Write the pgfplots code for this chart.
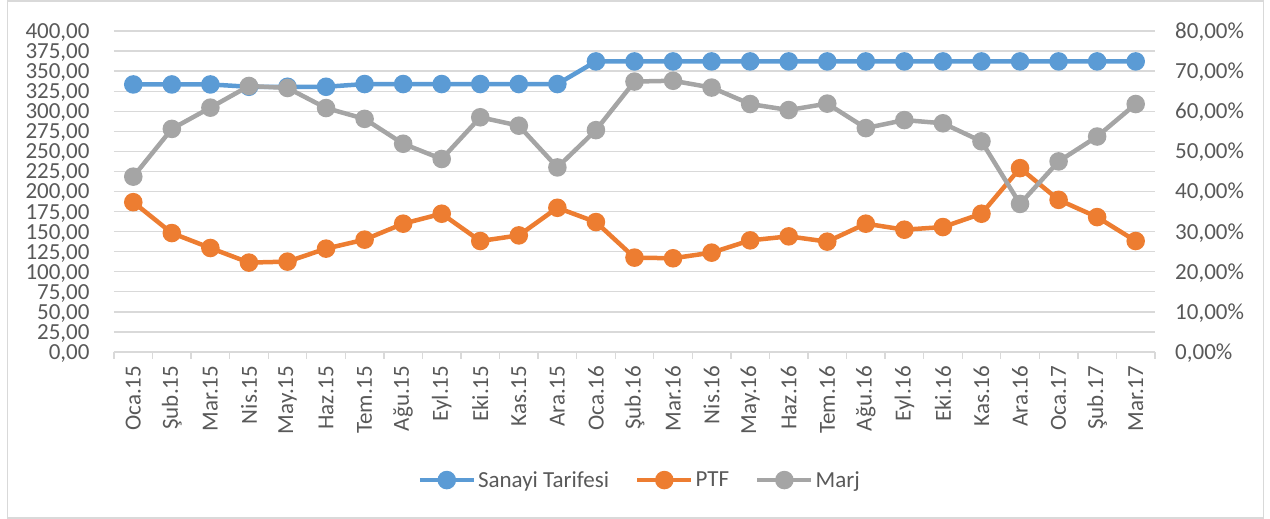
\documentclass[border=0pt]{standalone}
\usepackage{fontspec}
\setmainfont{Carlito}
\usepackage{pgfplots}
\pgfplotsset{compat=1.18}
\definecolor{cblue}{HTML}{5B9BD5}
\definecolor{corange}{HTML}{ED7D31}
\definecolor{cgray}{HTML}{A5A5A5}
\definecolor{ctext}{HTML}{595959}
\definecolor{cgrid}{HTML}{D9D9D9}
\begin{document}
\begin{tikzpicture}[x=1pt,y=1pt]
\useasboundingbox (0,0) rectangle (1270,519);
\draw[cgrid, line width=1.2pt] (7.5,1) rectangle (1263.5,518);
\pgfplotsset{
  common/.style={
    scale only axis, width=1041pt, height=321pt,
    at={(114pt,167pt)}, anchor=south west,
    xmin=-0.5, xmax=26.5,
    font=\fontsize{23}{26}\selectfont,
    tick label style={text=ctext},
    /pgf/number format/.cd, fixed, fixed zerofill, precision=2, use comma, 1000 sep={}, assume math mode=true,
    /pgfplots/.cd,
  },
  ser/.style={line width=4.5pt, mark=*, mark size=7pt, mark options={solid}},
}
\begin{axis}[common,
  ymin=0, ymax=400, ytick={0,25,...,400},
  ymajorgrids, grid style={cgrid, line width=1.3pt},
  axis line style={draw=none},
  axis x line*=bottom, axis y line*=left,
  y axis line style={draw=none},
  x axis line style={draw=cgrid, line width=1.3pt},
  ytick style={draw=none},
  yticklabel style={inner sep=0pt, text height=15pt, text depth=0pt, xshift=-20pt},
  xtick={0,...,26},
  xticklabels={Oca.15,Şub.15,Mar.15,Nis.15,May.15,Haz.15,Tem.15,Ağu.15,Eyl.15,Eki.15,Kas.15,Ara.15,Oca.16,Şub.16,Mar.16,Nis.16,May.16,Haz.16,Tem.16,Ağu.16,Eyl.16,Eki.16,Kas.16,Ara.16,Oca.17,Şub.17,Mar.17},
  xticklabel style={rotate=90, anchor=east, xshift=0pt, yshift=0pt},
  major x tick style={draw=none},
  minor xtick={-0.5,0.5,...,26.5},
  minor x tick style={draw=cgrid, line width=1.3pt},
  minor tick length=7pt, tick align=outside,
  xticklabel shift=6pt,
  clip=false,
]
\addplot[ser, color=cblue] coordinates {
(0,333.4)(1,333.4)(2,333.4)(3,330.5)(4,330.5)(5,330.5)(6,333.9)(7,333.9)(8,333.9)(9,333.9)(10,333.9)(11,333.9)
(12,362.1)(13,362.1)(14,362.1)(15,362.1)(16,362.1)(17,362.1)(18,362.1)(19,362.1)(20,362.1)(21,362.1)(22,362.1)(23,362.1)(24,362.1)(25,362.1)(26,362.1)};
\addplot[ser, color=corange] coordinates {
(0,186.7)(1,148.2)(2,129.6)(3,111.4)(4,112.6)(5,128.8)(6,140.0)(7,159.9)(8,172.3)(9,138.3)(10,145.3)(11,179.7)
(12,161.9)(13,117.6)(14,116.8)(15,123.8)(16,139.1)(17,144.1)(18,137.5)(19,159.9)(20,152.4)(21,155.7)(22,172.3)(23,229.1)(24,189.6)(25,168.1)(26,138.3)};
\end{axis}
\begin{axis}[common,
  ymin=0, ymax=80, ytick={0,10,...,80},
  axis line style={draw=none},
  axis y line*=right, axis x line=none,
  ytick style={draw=none},
  yticklabel={\pgfmathprintnumber{\tick}\%},
  yticklabel style={inner sep=0pt, text height=15pt, text depth=0pt, xshift=20pt},
  xtick=\empty,
  clip=false,
  legend style={at={(0.505,-0.399)}, anchor=center, draw=none, fill=none,
    legend columns=3, text=ctext, font=\fontsize{23}{26}\selectfont,
    /tikz/every even column/.append style={column sep=24pt}},
  legend cell align=left,
  legend image code/.code={\draw[mark repeat=2, mark phase=2] plot coordinates {(0pt,0pt) (27pt,0pt) (54pt,0pt)};},
]
\addlegendimage{ser, color=cblue}
\addlegendentry{Sanayi Tarifesi}
\addlegendimage{ser, color=corange}
\addlegendentry{PTF}
\addplot[ser, color=cgray] coordinates {
(0,43.7)(1,55.6)(2,60.9)(3,66.3)(4,65.8)(5,60.8)(6,58.1)(7,51.9)(8,48.1)(9,58.5)(10,56.4)(11,46.0)
(12,55.3)(13,67.4)(14,67.6)(15,65.9)(16,61.8)(17,60.3)(18,61.9)(19,55.8)(20,57.8)(21,57.0)(22,52.5)(23,36.9)(24,47.5)(25,53.7)(26,61.8)};
\addlegendentry{Marj}
\end{axis}
\end{tikzpicture}
\end{document}
